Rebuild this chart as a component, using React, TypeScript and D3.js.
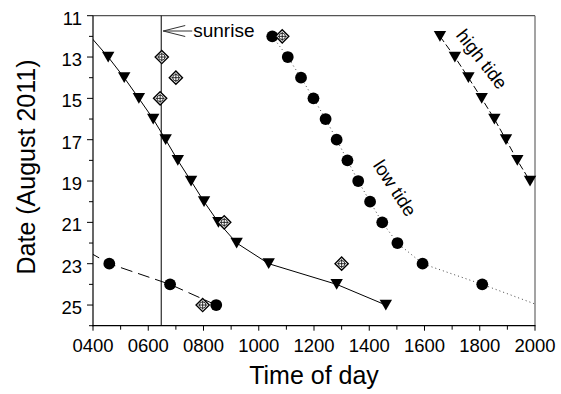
import React from "react";
import * as d3 from "d3";

// Falling-tide / early triangles (solid line)
const triDays = [12, 13, 14, 15, 16, 17, 18, 19, 20, 21, 22, 23, 24, 25];
const triTimes = [390, 455, 513, 566, 618, 663, 707, 755, 802, 854, 920, 1036, 1282, 1460];

// Morning circles (dashed line)
const amDays = [22, 23, 24, 25];
const amTimes = [328, 459, 679, 846];

// Low tide circles (dotted line)
const lowDays = [12, 13, 14, 15, 16, 17, 18, 19, 20, 21, 22, 23, 24, 25];
const lowTimes = [1049, 1105, 1153, 1198, 1242, 1282, 1321, 1360, 1403, 1447, 1502, 1593, 1809, 2010];

// High tide triangles (dashed line)
const highDays = [12, 13, 14, 15, 16, 17, 18, 19];
const highTimes = [1656, 1710, 1759, 1807, 1853, 1895, 1936, 1982];

// Observation diamonds (no line)
const diaDays = [12, 13, 14, 15, 21, 23, 25];
const diaTimes = [1085, 649, 700, 643, 875, 1300, 797];

const sunrise = 647;

const xMajor = [400, 600, 800, 1000, 1200, 1400, 1600, 1800, 2000];
const xMinor = [500, 700, 900, 1100, 1300, 1500, 1700, 1900];
const yMajor = [11, 13, 15, 17, 19, 21, 23, 25];
const yMinor = [12, 14, 16, 18, 20, 22, 24, 26];

const FONT = "'Liberation Sans', Arial, Helvetica, sans-serif";

export default function App() {
  const W = 561, H = 394;
  const L = 93, R = 535, T = 15.7, B = 325.7;
  const x = d3.scaleLinear().domain([400, 2000]).range([L, R]);
  const y = d3.scaleLinear().domain([11, 26]).range([T, B]);

  const pts = (days: number[], times: number[]) => days.map((d, i) => ({ d, t: times[i] }));
  const line = d3.line<{ d: number; t: number }>().x((p) => x(p.t)).y((p) => y(p.d));
  const inRange = (p: { t: number }) => p.t >= 400 && p.t <= 2000;

  const tri = pts(triDays, triTimes);
  const am = pts(amDays, amTimes);
  const low = pts(lowDays, lowTimes);
  const high = pts(highDays, highTimes);
  const dia = pts(diaDays, diaTimes);

  const triPath = (cx: number, cy: number) => {
    const w = 6.2, h = 5.4;
    return `M${cx - w},${cy - h}L${cx + w},${cy - h}L${cx},${cy + h}Z`;
  };

  const sx = x(sunrise);
  const ay = 31;

  return (
    <svg width={W} height={H} style={{ position: "absolute", left: 0, top: 0, background: "#fff" }} fontFamily={FONT}>
      <defs>
        <clipPath id="plotclip">
          <rect x={L} y={T} width={R - L} height={B - T} />
        </clipPath>
      </defs>
      <rect width={W} height={H} fill="#fff" />

      {/* frame */}
      <line x1={L} y1={T} x2={R} y2={T} stroke="#555" strokeWidth={1.2} />
      <line x1={R} y1={T} x2={R} y2={B} stroke="#666" strokeWidth={1.2} />
      <line x1={L} y1={T} x2={L} y2={B + 0.5} stroke="#000" strokeWidth={1.2} />
      <line x1={L - 0.5} y1={B} x2={R + 0.5} y2={B} stroke="#000" strokeWidth={1.2} />

      {/* x ticks */}
      {xMajor.map((v) => (
        <g key={"xm" + v}>
          <line x1={x(v)} x2={x(v)} y1={B} y2={B + 5} stroke="#000" />
          <text x={x(v)} y={351.5} textAnchor="middle" fontSize={18.5}>
            {String(v).padStart(4, "0")}
          </text>
        </g>
      ))}
      {xMinor.map((v) => (
        <line key={"xn" + v} x1={x(v)} x2={x(v)} y1={B} y2={B + 4} stroke="#000" />
      ))}

      {/* y ticks */}
      {yMajor.map((v) => (
        <g key={"ym" + v}>
          <line x1={L - 6} x2={L} y1={y(v)} y2={y(v)} stroke="#000" />
          <text x={82} y={y(v) + 2.5} dy="0.35em" textAnchor="end" fontSize={18.5}>
            {v}
          </text>
        </g>
      ))}
      {yMinor.map((v) => (
        <line key={"yn" + v} x1={L - 4} x2={L} y1={y(v)} y2={y(v)} stroke="#000" />
      ))}

      {/* axis titles */}
      <text x={(L + R) / 2} y={384} textAnchor="middle" fontSize={25}>
        Time of day
      </text>
      <text transform={`translate(35,167) rotate(-90)`} textAnchor="middle" fontSize={25}>
        Date (August 2011)
      </text>

      {/* sunrise line */}
      <line x1={sx} x2={sx} y1={T} y2={B} stroke="#000" strokeWidth={1} />
      <g stroke="#333" strokeWidth={1} fill="none">
        <line x1={sx + 2} y1={ay} x2={sx + 31} y2={ay} />
        <line x1={sx + 2} y1={ay} x2={sx + 24} y2={ay - 5.5} />
        <line x1={sx + 2} y1={ay} x2={sx + 24} y2={ay + 5.5} />
      </g>
      <text x={sx + 32} y={37} fontSize={19}>
        sunrise
      </text>

      {/* lines */}
      <g clipPath="url(#plotclip)" fill="none">
        <path d={line(tri) || ""} stroke="#000" strokeWidth={1} />
        <path d={line(am) || ""} stroke="#000" strokeWidth={1} strokeDasharray="12,6" />
        <path d={line(low) || ""} stroke="#444" strokeWidth={1} strokeDasharray="1,3" />
        <path d={line(high) || ""} stroke="#000" strokeWidth={1} strokeDasharray="7,3" />
      </g>

      {/* markers */}
      {tri.filter(inRange).map((p, i) => (
        <path key={"t" + i} d={triPath(x(p.t), y(p.d))} fill="#000" />
      ))}
      {high.filter(inRange).map((p, i) => (
        <path key={"h" + i} d={triPath(x(p.t), y(p.d))} fill="#000" />
      ))}
      {am.filter(inRange).map((p, i) => (
        <circle key={"a" + i} cx={x(p.t)} cy={y(p.d)} r={5.9} fill="#000" />
      ))}
      {low.filter(inRange).map((p, i) => (
        <circle key={"l" + i} cx={x(p.t)} cy={y(p.d)} r={5.9} fill="#000" />
      ))}
      {dia.filter(inRange).map((p, i) => {
        const cx = x(p.t), cy = y(p.d), s = 6.6;
        return (
          <g key={"d" + i} stroke="#000">
            <path d={`M${cx},${cy - s}L${cx + s},${cy}L${cx},${cy + s}L${cx - s},${cy}Z`} fill="#fff" strokeWidth={1.4} />
            <circle cx={cx} cy={cy} r={3.2} fill="none" strokeWidth={0.8} />
            <line x1={cx - 4.5} x2={cx + 4.5} y1={cy} y2={cy} strokeWidth={0.8} />
            <line x1={cx} x2={cx} y1={cy - 4.5} y2={cy + 4.5} strokeWidth={0.8} />
          </g>
        );
      })}

      {/* annotations */}
      <text transform={`translate(395,188) rotate(57)`} textAnchor="middle" dy="0.35em" fontSize={18.5}>
        low tide
      </text>
      <text transform={`translate(482,59) rotate(52)`} textAnchor="middle" dy="0.35em" fontSize={18.5}>
        high tide
      </text>
    </svg>
  );
}
